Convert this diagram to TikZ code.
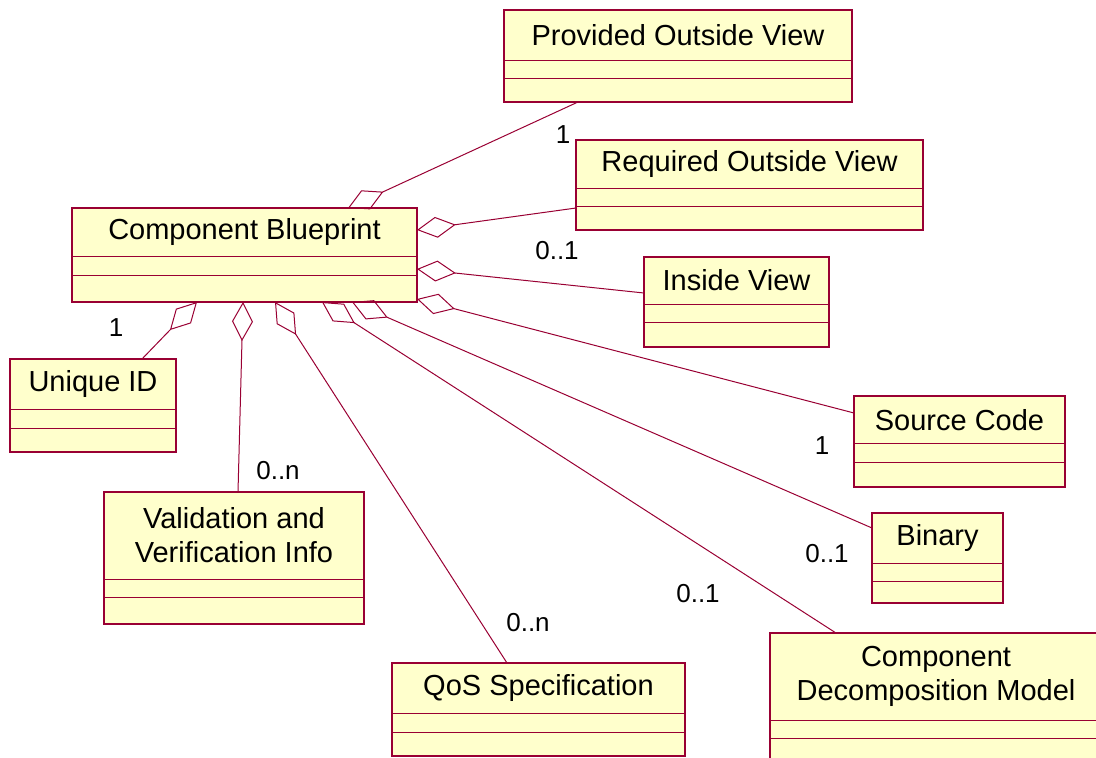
\documentclass[tikz,border=0pt]{standalone}
\usepackage{fontspec}
\setmainfont{Liberation Sans}
\usetikzlibrary{arrows.meta}
\definecolor{umlred}{RGB}{153,0,51}
\definecolor{umlfill}{RGB}{255,255,204}

\begin{document}
\begin{tikzpicture}[x=1pt,y=-1pt,
  cls/.style={draw=umlred,fill=umlfill,line width=1.2pt,inner sep=0pt,outer sep=0pt,anchor=north west},
  sep/.style={draw=umlred,line width=1pt},
  ttl/.style={align=center,inner sep=0pt,font=\fontsize{29}{34}\selectfont},
  mult/.style={inner sep=0pt,font=\fontsize{26}{30}\selectfont},
  agg/.style={{Diamond[open,length=39pt,width=21pt]}-,draw=umlred,line width=1pt}]
  \useasboundingbox (0,0) rectangle (1096,758);
  \clip (0,0) rectangle (1096,758);

  % classes
  \node[cls,minimum width=345,minimum height=94] (cb) at (72,208) {};
  \node[ttl] (cb-t) at ([yshift=-24]cb.north) {Component Blueprint};
  \draw[sep] ([yshift=-48]cb.north west) -- ([yshift=-48]cb.north east)
             ([yshift=-67]cb.north west) -- ([yshift=-67]cb.north east);

  \node[cls,minimum width=348,minimum height=92] (pov) at (504,10) {};
  \node[ttl] (pov-t) at ([yshift=-25]pov.north) {Provided Outside View};
  \draw[sep] ([yshift=-50]pov.north west) -- ([yshift=-50]pov.north east)
             ([yshift=-68]pov.north west) -- ([yshift=-68]pov.north east);

  \node[cls,minimum width=347,minimum height=90] (rov) at (576,140) {};
  \node[ttl] (rov-t) at ([yshift=-24]rov.north) {Required Outside View};
  \draw[sep] ([yshift=-48]rov.north west) -- ([yshift=-48]rov.north east)
             ([yshift=-66]rov.north west) -- ([yshift=-66]rov.north east);

  \node[cls,minimum width=185,minimum height=90] (iv) at (644,257) {};
  \node[ttl] (iv-t) at ([yshift=-23]iv.north) {Inside View};
  \draw[sep] ([yshift=-47]iv.north west) -- ([yshift=-47]iv.north east)
             ([yshift=-65]iv.north west) -- ([yshift=-65]iv.north east);

  \node[cls,minimum width=166,minimum height=93] (uid) at (10,359) {};
  \node[ttl] (uid-t) at ([yshift=-25]uid.north) {Unique ID};
  \draw[sep] ([yshift=-50]uid.north west) -- ([yshift=-50]uid.north east)
             ([yshift=-69]uid.north west) -- ([yshift=-69]uid.north east);

  \node[cls,minimum width=211,minimum height=91] (src) at (854,396) {};
  \node[ttl] (src-t) at ([yshift=-24]src.north) {Source Code};
  \draw[sep] ([yshift=-47]src.north west) -- ([yshift=-47]src.north east)
             ([yshift=-66]src.north west) -- ([yshift=-66]src.north east);

  \node[cls,minimum width=260,minimum height=132] (vv) at (104,492) {};
  \node[ttl] (vv-t) at ([yshift=-43]vv.north) {Validation and\\Verification Info};
  \draw[sep] ([yshift=-87]vv.north west) -- ([yshift=-87]vv.north east)
             ([yshift=-105]vv.north west) -- ([yshift=-105]vv.north east);

  \node[cls,minimum width=131,minimum height=90] (bin) at (872,513) {};
  \node[ttl] (bin-t) at ([yshift=-25]bin.north) {Binary};
  \draw[sep] ([yshift=-50]bin.north west) -- ([yshift=-50]bin.north east)
             ([yshift=-68]bin.north west) -- ([yshift=-68]bin.north east);

  \node[cls,minimum width=293,minimum height=93] (qos) at (392,663) {};
  \node[ttl] (qos-t) at ([yshift=-25]qos.north) {QoS Specification};
  \draw[sep] ([yshift=-50]qos.north west) -- ([yshift=-50]qos.north east)
             ([yshift=-69]qos.north west) -- ([yshift=-69]qos.north east);

  \node[cls,minimum width=340,minimum height=137] (cdm) at (770,633) {};
  \node[ttl] (cdm-t) at ([xshift=-170+166,yshift=-43]cdm.north) {Component\\Decomposition Model};
  \draw[sep] ([yshift=-87]cdm.north west) -- ([yshift=-87]cdm.north east)
             ([yshift=-105]cdm.north west) -- ([yshift=-105]cdm.north east);

  % aggregations
  \draw[agg] ([xshift=276]cb.north west) -- ([xshift=74]pov.south west);
  \draw[agg] ([yshift=-22]cb.north east) -- ([yshift=-68]rov.north west);
  \draw[agg] ([yshift=-61]cb.north east) -- ([yshift=-36]iv.north west);
  \draw[agg] ([yshift=-91]cb.north east) -- ([yshift=-17]src.north west);
  \draw[agg] ([xshift=280]cb.south west) -- ([yshift=-15]bin.north west);
  \draw[agg] ([xshift=250]cb.south west) -- ([xshift=66]cdm.north west);
  \draw[agg] ([xshift=203]cb.south west) -- ([xshift=115]qos.north west);
  \draw[agg] ([xshift=171]cb.south west) -- ([xshift=134]vv.north west);
  \draw[agg] ([xshift=125]cb.south west) -- ([xshift=132]uid.north west);

  % multiplicities
  \node[mult] (m-pov) at (563,135) {1};
  \node[mult] (m-rov) at (557,251) {0..1};
  \node[mult] (m-uid) at (116,328) {1};
  \node[mult] (m-vv) at (278,471) {0..n};
  \node[mult] (m-src) at (822,446) {1};
  \node[mult] (m-bin) at (827,554) {0..1};
  \node[mult] (m-cdm) at (698,594) {0..1};
  \node[mult] (m-qos) at (528,623) {0..n};
\end{tikzpicture}
\end{document}
